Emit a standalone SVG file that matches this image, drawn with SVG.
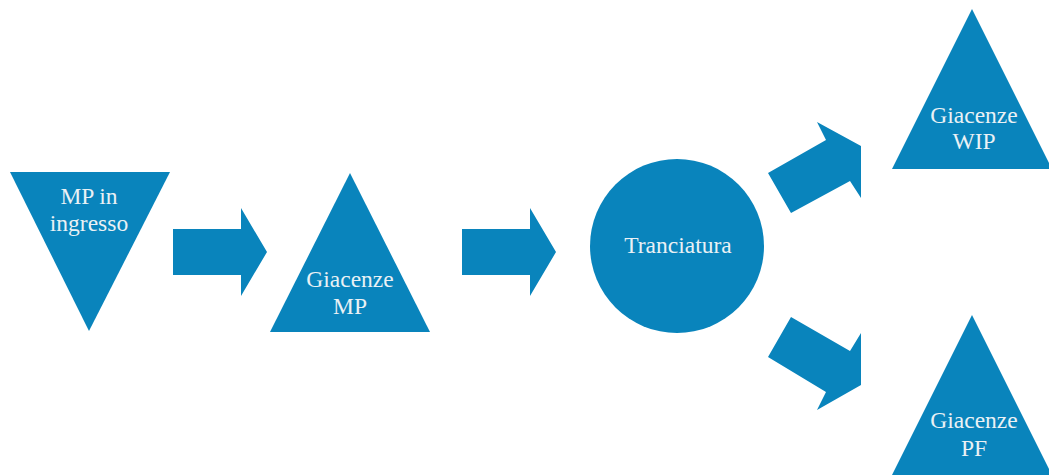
<svg xmlns="http://www.w3.org/2000/svg" width="1049" height="476" viewBox="0 0 1049 476">
  <style>
    .shape { fill: #0984BC; }
    .arrow { fill: #0984BC; }
    .label { fill: #EAF1F5; font-family: "Liberation Serif", "Times New Roman", serif; font-size: 23.5px; text-anchor: middle; }
  </style>
  <rect width="1049" height="476" fill="#FFFFFF"/>

  <g id="connectors">
    <polygon class="arrow" points="173,229 241,229 241,208 267,252 241,296 241,275 173,275"/>
    <polygon class="arrow" points="462,229 530,229 530,208 556,252 530,296 530,275 462,275"/>
    <polygon class="arrow" points="768,173 826,140 817,122 861,146 861,198 850,181 791,213"/>
    <polygon class="arrow" points="768,357 791,317 850,351 861,333 861,385 817,410 826,392"/>
  </g>

  <g id="mp-ingresso">
    <polygon class="shape" points="10,172 170,172 89,331"/>
    <text class="label" x="89" y="204">MP in</text>
    <text class="label" x="89" y="231">ingresso</text>
  </g>

  <g id="giacenze-mp">
    <polygon class="shape" points="350,173 430,332 270,332"/>
    <text class="label" x="350" y="287">Giacenze</text>
    <text class="label" x="350" y="314">MP</text>
  </g>

  <g id="tranciatura">
    <circle class="shape" cx="677" cy="246" r="87"/>
    <text class="label" x="678" y="253">Tranciatura</text>
  </g>

  <g id="giacenze-wip">
    <polygon class="shape" points="972,9 1052,169 892,169"/>
    <text class="label" x="974" y="123">Giacenze</text>
    <text class="label" x="974" y="149">WIP</text>
  </g>

  <g id="giacenze-pf">
    <polygon class="shape" points="972,315 1052,475 892,475"/>
    <text class="label" x="974" y="428">Giacenze</text>
    <text class="label" x="974" y="456">PF</text>
  </g>
</svg>
